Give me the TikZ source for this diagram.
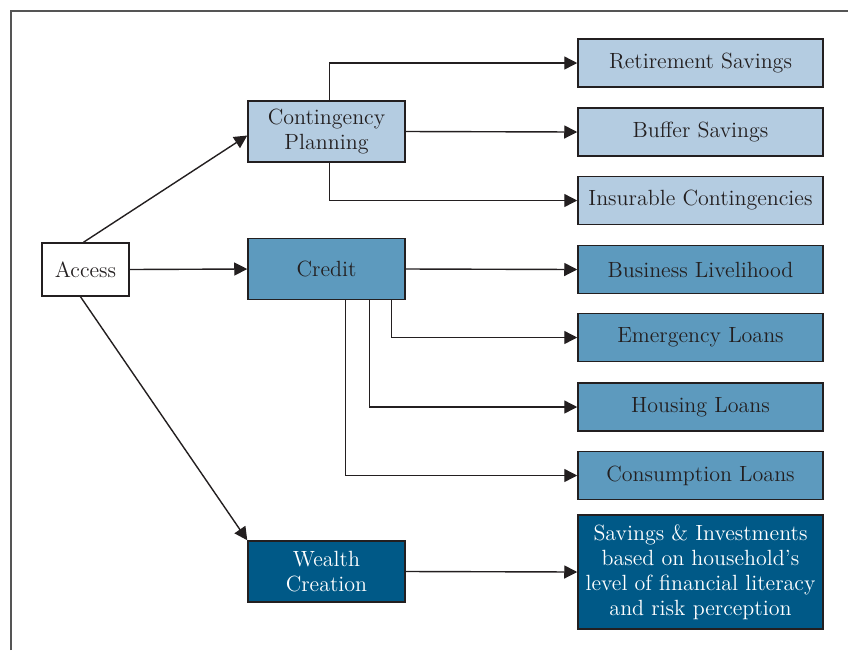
\documentclass[tikz,border=0pt]{standalone}
\usepackage{tikz}
\usetikzlibrary{arrows.meta,positioning}

\definecolor{lightblue}{RGB}{180,204,225}
\definecolor{midblue}{RGB}{93,154,190}
\definecolor{darkblue}{RGB}{0,89,135}
\definecolor{framegray}{RGB}{85,85,85}
\definecolor{textgray}{RGB}{35,31,32}

\begin{document}
\begin{tikzpicture}[x=0.5pt, y=-0.5pt,
  >={Triangle[length=6.5pt,width=6.5pt]},
  box/.style={draw=textgray, line width=0.75pt, align=center, inner sep=0pt,
    text=textgray, font=\fontsize{11}{12.5}\selectfont},
  midbox/.style={box, minimum width=78.5pt, minimum height=30.5pt},
  leafbox/.style={box, minimum width=122.5pt, minimum height=24pt},
  line/.style={draw=textgray, line width=0.7pt},
]

\useasboundingbox (0,0) rectangle (848,650);
\draw[framegray, line width=1pt] (11,650) -- (11,11) -- (848,11);

\node[box, fill=white, minimum width=43.5pt, minimum height=26.5pt] (acc) at (85.5,269.5) {Access};

\node[midbox, fill=lightblue] (cont) at (326.5,131.5) {Contingency\\Planning};
\node[midbox, fill=midblue] (cred) at (326.5,269) {Credit};
\node[midbox, fill=darkblue, text=white] (wealth) at (326.5,571.5) {Wealth\\Creation};

\node[leafbox, fill=lightblue] (ret) at (700.5,63) {Retirement Savings};
\node[leafbox, fill=lightblue] (buf) at (700.5,132) {Buffer Savings};
\node[leafbox, fill=lightblue] (ins) at (700.5,200.5) {Insurable Contingencies};
\node[leafbox, fill=midblue] (bus) at (700.5,269.5) {Business Livelihood};
\node[leafbox, fill=midblue] (emg) at (700.5,337.5) {Emergency Loans};
\node[leafbox, fill=midblue] (hou) at (700.5,407) {Housing Loans};
\node[leafbox, fill=midblue] (con) at (700.5,475.5) {Consumption Loans};
\node[leafbox, fill=darkblue, text=white, minimum height=57pt] (sav) at (700.5,572)
  {Savings \& Investments\\based on household's\\level of financial literacy\\and risk perception};

\draw[line,->] ([xshift=-1pt]acc.north) -- ([yshift=-2pt]cont.west);
\draw[line,->] (acc.east) -- (cred.west);
\draw[line,->] ([xshift=-2.5pt]acc.south) -- (wealth.north west);

\draw[line,->] ([xshift=1.5pt]cont.north) |- (ret.west);
\draw[line,->] (cont.east) -- (buf.west);
\draw[line,->] ([xshift=1.5pt]cont.south) |- (ins.west);

\draw[line,->] (cred.east) -- (bus.west);
\draw[line,->] ([xshift=-7pt]cred.south east) |- (emg.west);
\draw[line,->] ([xshift=-18pt]cred.south east) |- (hou.west);
\draw[line,->] ([xshift=-30pt]cred.south east) |- (con.west);

\draw[line,->] (wealth.east) -- (sav.west);

\end{tikzpicture}
\end{document}
